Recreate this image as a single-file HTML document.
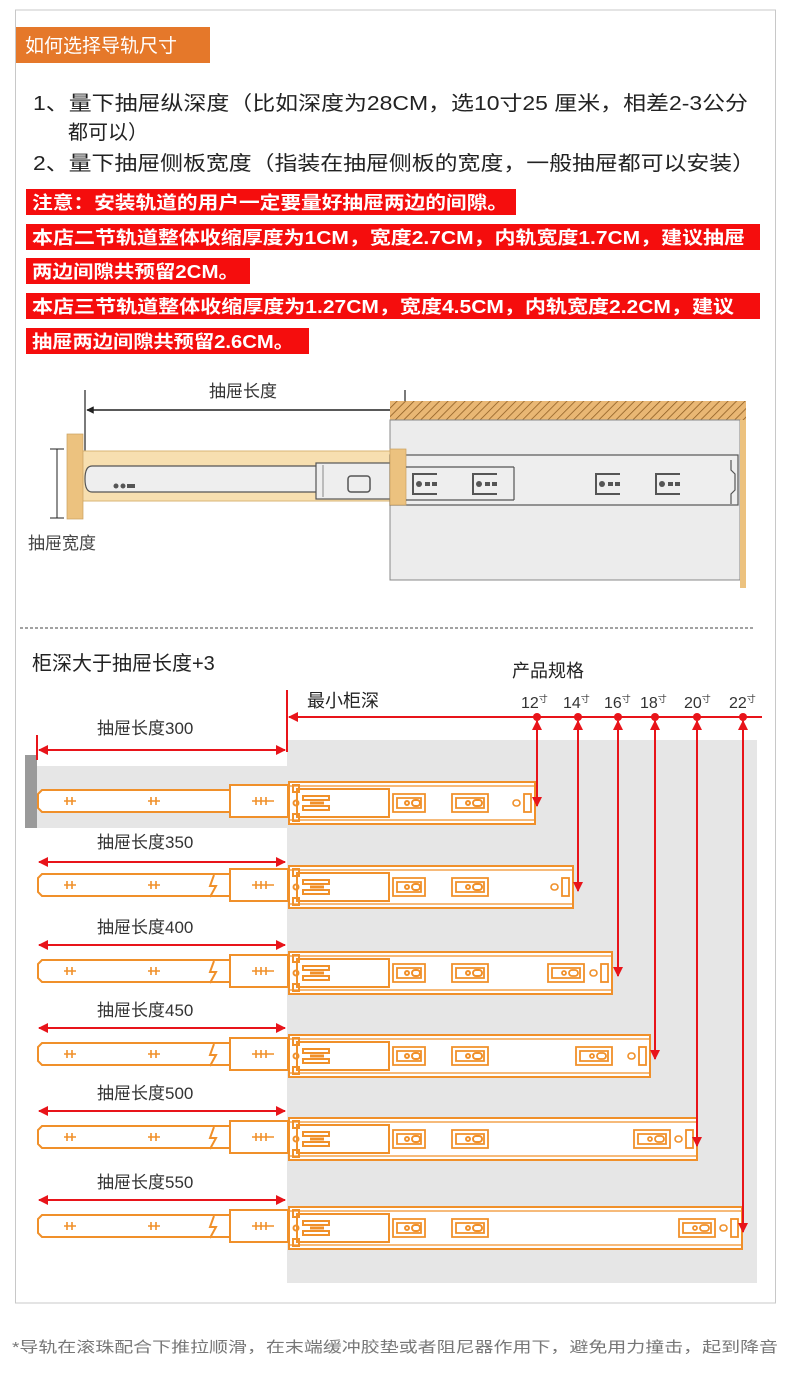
<!DOCTYPE html>
<html><head><meta charset="utf-8"><style>
html,body{margin:0;padding:0;background:#fff;}
svg{display:block;}
text{font-family:"Liberation Sans","Noto Sans CJK SC",sans-serif;}
</style></head><body>
<svg width="790" height="1378" viewBox="0 0 790 1378" xmlns="http://www.w3.org/2000/svg">
<defs>
<pattern id="hatch" width="6" height="6" patternUnits="userSpaceOnUse" patternTransform="rotate(45)">
<rect width="6" height="6" fill="#e9b774"/><line x1="0" y1="0" x2="0" y2="6" stroke="#8a5a20" stroke-width="1.5"/></pattern>
<marker id="ar" viewBox="0 0 10 10" refX="9" refY="5" markerWidth="5" markerHeight="5" orient="auto-start-reverse"><path d="M0,0L10,5L0,10z" fill="#e8141a"/></marker>
<marker id="ak" viewBox="0 0 10 10" refX="9" refY="5" markerWidth="5" markerHeight="5" orient="auto-start-reverse"><path d="M0,0L10,5L0,10z" fill="#222"/></marker>
<g id="inner" fill="none" stroke="#f0902a" stroke-width="2">
<path d="M42,8 H232 V30 H42 L38,26 V12 Z" fill="#fff"/>
<rect x="230" y="3" width="58" height="32" fill="#fff"/>
<g stroke-width="1.6"><path d="M64,19h12M67,15v8M72,15v8M148,19h12M151,15v8M156,15v8M252,19h22M256,15v8M261,15v8M266,15v8"/></g>
</g>
<g id="outerL" fill="none" stroke="#f0902a" stroke-width="2">
<rect x="297" y="7" width="92" height="28"/>
<rect x="293" y="3" width="6" height="7"/><rect x="293" y="32" width="6" height="7"/>
<circle cx="296" cy="21" r="2.5"/>
<rect x="303" y="14" width="26" height="4"/><rect x="303" y="24" width="26" height="4"/>
<path d="M310,21h14" stroke-width="3"/>
<path d="M425,12H393V30H425ZM397,16h24v10h-24z" stroke-width="1.8"/>
<circle cx="407" cy="21" r="2"/><rect x="412" y="18" width="8" height="6" rx="3"/>
<path d="M488,12H452V30H488ZM456,16h28v10h-28z" stroke-width="1.8"/>
<circle cx="468" cy="21" r="2"/><rect x="473" y="18" width="9" height="6" rx="3"/>
</g>
<g id="slotE" fill="none" stroke="#f0902a" stroke-width="1.8">
<path d="M0,12H-36V30H0ZM-32,16h28v10h-28z"/><circle cx="-20" cy="21" r="2"/><rect x="-15" y="18" width="9" height="6" rx="3"/>
</g>
<path id="zig" d="M214,9 L210,20 L216,20 L210,31" fill="none" stroke="#f0902a" stroke-width="2"/>
</defs>

<rect x="15.5" y="10" width="760" height="1293" fill="none" stroke="#c8c8c8"/>
<rect x="16" y="27" width="194" height="36" fill="#e5782a"/>
<text x="25" y="52" font-size="19" fill="#fff">如何选择导轨尺寸</text>

<text x="33" y="110" font-size="20" fill="#222" textLength="715" lengthAdjust="spacingAndGlyphs">1、量下抽屉纵深度（比如深度为28CM，选10寸25 厘米，相差2-3公分</text>
<text x="68" y="139" font-size="20" fill="#222">都可以）</text>
<text x="33" y="170" font-size="20" fill="#222" textLength="722" lengthAdjust="spacingAndGlyphs">2、量下抽屉侧板宽度（指装在抽屉侧板的宽度，一般抽屉都可以安装）</text>

<g fill="#f50d0d">
<rect x="26" y="189" width="490" height="26"/>
<rect x="26" y="224" width="734" height="26"/>
<rect x="26" y="258" width="224" height="26"/>
<rect x="26" y="293" width="734" height="26"/>
<rect x="26" y="328" width="283" height="26"/>
</g>
<g fill="#fff" font-size="18" font-weight="bold">
<text x="32" y="209" textLength="476" lengthAdjust="spacingAndGlyphs">注意：安装轨道的用户一定要量好抽屉两边的间隙。</text>
<text x="32" y="244" textLength="713" lengthAdjust="spacingAndGlyphs">本店二节轨道整体收缩厚度为1CM，宽度2.7CM，内轨宽度1.7CM，建议抽屉</text>
<text x="32" y="278" textLength="207" lengthAdjust="spacingAndGlyphs">两边间隙共预留2CM。</text>
<text x="32" y="313" textLength="702" lengthAdjust="spacingAndGlyphs">本店三节轨道整体收缩厚度为1.27CM，宽度4.5CM，内轨宽度2.2CM，建议</text>
<text x="32" y="348" textLength="262" lengthAdjust="spacingAndGlyphs">抽屉两边间隙共预留2.6CM。</text>
</g>

<text x="243" y="397" font-size="17" fill="#333" text-anchor="middle">抽屉长度</text>
<line x1="85" y1="390" x2="85" y2="452" stroke="#222" stroke-width="1.2"/>
<line x1="405" y1="390" x2="405" y2="452" stroke="#222" stroke-width="1.2"/>
<line x1="87" y1="410" x2="403" y2="410" stroke="#222" stroke-width="1.5" marker-start="url(#ak)" marker-end="url(#ak)"/>
<rect x="390" y="401" width="356" height="19" fill="url(#hatch)"/>
<rect x="390" y="420" width="350" height="160" fill="#ececec" stroke="#888" stroke-width="1"/>
<rect x="740" y="420" width="6" height="168" fill="#ecc27f"/>
<rect x="82" y="451" width="309" height="50" fill="#f7dfb0" stroke="#d9b575"/>
<rect x="67" y="434" width="16" height="85" fill="#ecc27f" stroke="#c9a060" stroke-width="0.7"/>
<path d="M92,466 H320 V492 H92 Q85,492 85,479 Q85,466 92,466Z" fill="#eee" stroke="#555" stroke-width="1.2"/>
<circle cx="116" cy="486" r="2.5" fill="#555"/><circle cx="123" cy="486" r="2.5" fill="#555"/><rect x="127" y="484" width="8" height="4" fill="#555"/>
<rect x="316" y="463" width="75" height="36" fill="#eee" stroke="#555" stroke-width="1.2"/>
<line x1="323" y1="465" x2="323" y2="497" stroke="#888"/>
<rect x="348" y="476" width="22" height="16" rx="3" fill="none" stroke="#555" stroke-width="1.5"/>
<rect x="390" y="455" width="348" height="50" fill="#eee" stroke="#555" stroke-width="1.2"/>
<rect x="390" y="449" width="16" height="56" fill="#ecc27f" stroke="#c9a060" stroke-width="0.7"/>
<line x1="406" y1="467" x2="514" y2="467" stroke="#555" stroke-width="1.2"/>
<line x1="406" y1="500" x2="514" y2="500" stroke="#555" stroke-width="1.2"/>
<line x1="514" y1="467" x2="514" y2="500" stroke="#555" stroke-width="1.2"/>
<g fill="none" stroke="#555" stroke-width="2">
<path d="M437,474h-24v20h24"/><path d="M497,474h-24v20h24"/><path d="M620,474h-24v20h24"/><path d="M680,474h-24v20h24"/>
</g>
<g fill="#555">
<circle cx="419" cy="484" r="3"/><rect x="425" y="482" width="5" height="4"/><rect x="432" y="482" width="5" height="4"/>
<circle cx="479" cy="484" r="3"/><rect x="485" y="482" width="5" height="4"/><rect x="492" y="482" width="5" height="4"/>
<circle cx="602" cy="484" r="3"/><rect x="608" y="482" width="5" height="4"/><rect x="615" y="482" width="5" height="4"/>
<circle cx="662" cy="484" r="3"/><rect x="668" y="482" width="5" height="4"/><rect x="675" y="482" width="5" height="4"/>
</g>
<path d="M731,460 v10 l4,4 v16 l-4,4 v10" fill="none" stroke="#555" stroke-width="1.2"/>
<line x1="57" y1="449" x2="57" y2="518" stroke="#222"/>
<line x1="50" y1="449" x2="64" y2="449" stroke="#222"/><line x1="50" y1="518" x2="64" y2="518" stroke="#222"/>
<text x="28" y="549" font-size="17" fill="#444">抽屉宽度</text>

<line x1="20" y1="628" x2="755" y2="628" stroke="#444" stroke-dasharray="3,2"/>

<text x="32" y="670" font-size="20" fill="#222">柜深大于抽屉长度+3</text>
<text x="512" y="677" font-size="18" fill="#222">产品规格</text>
<text x="307" y="707" font-size="18" fill="#222">最小柜深</text>
<rect x="287" y="740" width="470" height="543" fill="#e6e6e6"/>
<rect x="25" y="766" width="262" height="62" fill="#e6e6e6"/>
<rect x="25" y="755" width="12" height="73" fill="#9a9a9a"/>
<line x1="289" y1="717" x2="762" y2="717" stroke="#e8141a" stroke-width="2" marker-start="url(#ar)"/>
<line x1="287" y1="690" x2="287" y2="752" stroke="#e8141a" stroke-width="2"/>
<line x1="37" y1="735" x2="37" y2="760" stroke="#e8141a" stroke-width="2"/>
<g font-size="16" fill="#333" font-family="Liberation Serif,serif">
<text x="521" y="708">12<tspan font-size="9" dy="-6">寸</tspan></text>
<text x="563" y="708">14<tspan font-size="9" dy="-6">寸</tspan></text>
<text x="604" y="708">16<tspan font-size="9" dy="-6">寸</tspan></text>
<text x="640" y="708">18<tspan font-size="9" dy="-6">寸</tspan></text>
<text x="684" y="708">20<tspan font-size="9" dy="-6">寸</tspan></text>
<text x="729" y="708">22<tspan font-size="9" dy="-6">寸</tspan></text>
</g>
<g fill="#e8141a"><circle cx="537" cy="717" r="4"/><circle cx="578" cy="717" r="4"/><circle cx="618" cy="717" r="4"/><circle cx="655" cy="717" r="4"/><circle cx="697" cy="717" r="4"/><circle cx="743" cy="717" r="4"/></g>

<g font-size="17" fill="#333">
<text x="97" y="734">抽屉长度300</text>
<text x="97" y="848">抽屉长度350</text>
<text x="97" y="933">抽屉长度400</text>
<text x="97" y="1016">抽屉长度450</text>
<text x="97" y="1099">抽屉长度500</text>
<text x="97" y="1188">抽屉长度550</text>
</g>
<g stroke="#e8141a" stroke-width="2">
<line x1="39" y1="750" x2="285" y2="750" marker-start="url(#ar)" marker-end="url(#ar)"/>
<line x1="39" y1="862" x2="285" y2="862" marker-start="url(#ar)" marker-end="url(#ar)"/>
<line x1="39" y1="945" x2="285" y2="945" marker-start="url(#ar)" marker-end="url(#ar)"/>
<line x1="39" y1="1028" x2="285" y2="1028" marker-start="url(#ar)" marker-end="url(#ar)"/>
<line x1="39" y1="1111" x2="285" y2="1111" marker-start="url(#ar)" marker-end="url(#ar)"/>
<line x1="39" y1="1200" x2="285" y2="1200" marker-start="url(#ar)" marker-end="url(#ar)"/>
</g>

<g transform="translate(0,782)">
<rect x="289" y="0" width="246" height="42" fill="#fff" stroke="#f0902a" stroke-width="2"/>
<line x1="289" y1="4" x2="535" y2="4" stroke="#f0902a" stroke-width="1.2"/><line x1="289" y1="38" x2="535" y2="38" stroke="#f0902a" stroke-width="1.2"/>
<use href="#inner"/><use href="#outerL"/>
<rect x="524" y="12" width="7" height="18" fill="none" stroke="#f0902a" stroke-width="1.8"/><rect x="513" y="18" width="7" height="6" rx="3" fill="none" stroke="#f0902a" stroke-width="1.6"/>
</g>
<g transform="translate(0,866)">
<rect x="289" y="0" width="284" height="42" fill="#fff" stroke="#f0902a" stroke-width="2"/>
<line x1="289" y1="4" x2="573" y2="4" stroke="#f0902a" stroke-width="1.2"/><line x1="289" y1="38" x2="573" y2="38" stroke="#f0902a" stroke-width="1.2"/>
<use href="#inner"/><use href="#zig"/><use href="#outerL"/>
<rect x="562" y="12" width="7" height="18" fill="none" stroke="#f0902a" stroke-width="1.8"/><rect x="551" y="18" width="7" height="6" rx="3" fill="none" stroke="#f0902a" stroke-width="1.6"/>
</g>
<g transform="translate(0,952)">
<rect x="289" y="0" width="323" height="42" fill="#fff" stroke="#f0902a" stroke-width="2"/>
<line x1="289" y1="4" x2="612" y2="4" stroke="#f0902a" stroke-width="1.2"/><line x1="289" y1="38" x2="612" y2="38" stroke="#f0902a" stroke-width="1.2"/>
<use href="#inner"/><use href="#zig"/><use href="#outerL"/><use href="#slotE" x="584"/>
<rect x="601" y="12" width="7" height="18" fill="none" stroke="#f0902a" stroke-width="1.8"/><rect x="590" y="18" width="7" height="6" rx="3" fill="none" stroke="#f0902a" stroke-width="1.6"/>
</g>
<g transform="translate(0,1035)">
<rect x="289" y="0" width="361" height="42" fill="#fff" stroke="#f0902a" stroke-width="2"/>
<line x1="289" y1="4" x2="650" y2="4" stroke="#f0902a" stroke-width="1.2"/><line x1="289" y1="38" x2="650" y2="38" stroke="#f0902a" stroke-width="1.2"/>
<use href="#inner"/><use href="#zig"/><use href="#outerL"/><use href="#slotE" x="612"/>
<rect x="639" y="12" width="7" height="18" fill="none" stroke="#f0902a" stroke-width="1.8"/><rect x="628" y="18" width="7" height="6" rx="3" fill="none" stroke="#f0902a" stroke-width="1.6"/>
</g>
<g transform="translate(0,1118)">
<rect x="289" y="0" width="408" height="42" fill="#fff" stroke="#f0902a" stroke-width="2"/>
<line x1="289" y1="4" x2="697" y2="4" stroke="#f0902a" stroke-width="1.2"/><line x1="289" y1="38" x2="697" y2="38" stroke="#f0902a" stroke-width="1.2"/>
<use href="#inner"/><use href="#zig"/><use href="#outerL"/><use href="#slotE" x="670"/>
<rect x="686" y="12" width="7" height="18" fill="none" stroke="#f0902a" stroke-width="1.8"/><rect x="675" y="18" width="7" height="6" rx="3" fill="none" stroke="#f0902a" stroke-width="1.6"/>
</g>
<g transform="translate(0,1207)">
<rect x="289" y="0" width="453" height="42" fill="#fff" stroke="#f0902a" stroke-width="2"/>
<line x1="289" y1="4" x2="742" y2="4" stroke="#f0902a" stroke-width="1.2"/><line x1="289" y1="38" x2="742" y2="38" stroke="#f0902a" stroke-width="1.2"/>
<use href="#inner"/><use href="#zig"/><use href="#outerL"/><use href="#slotE" x="715"/>
<rect x="731" y="12" width="7" height="18" fill="none" stroke="#f0902a" stroke-width="1.8"/><rect x="720" y="18" width="7" height="6" rx="3" fill="none" stroke="#f0902a" stroke-width="1.6"/>
</g>

<g stroke="#e8141a" stroke-width="2">
<line x1="537" y1="721" x2="537" y2="806" marker-start="url(#ar)" marker-end="url(#ar)"/>
<line x1="578" y1="721" x2="578" y2="891" marker-start="url(#ar)" marker-end="url(#ar)"/>
<line x1="618" y1="721" x2="618" y2="976" marker-start="url(#ar)" marker-end="url(#ar)"/>
<line x1="655" y1="721" x2="655" y2="1059" marker-start="url(#ar)" marker-end="url(#ar)"/>
<line x1="697" y1="721" x2="697" y2="1146" marker-start="url(#ar)" marker-end="url(#ar)"/>
<line x1="743" y1="721" x2="743" y2="1232" marker-start="url(#ar)" marker-end="url(#ar)"/>
</g>

<text x="12" y="1352" font-size="15" fill="#777" textLength="766" lengthAdjust="spacingAndGlyphs">*导轨在滚珠配合下推拉顺滑，在末端缓冲胶垫或者阻尼器作用下，避免用力撞击，起到降音</text>
</svg>
</body></html>
